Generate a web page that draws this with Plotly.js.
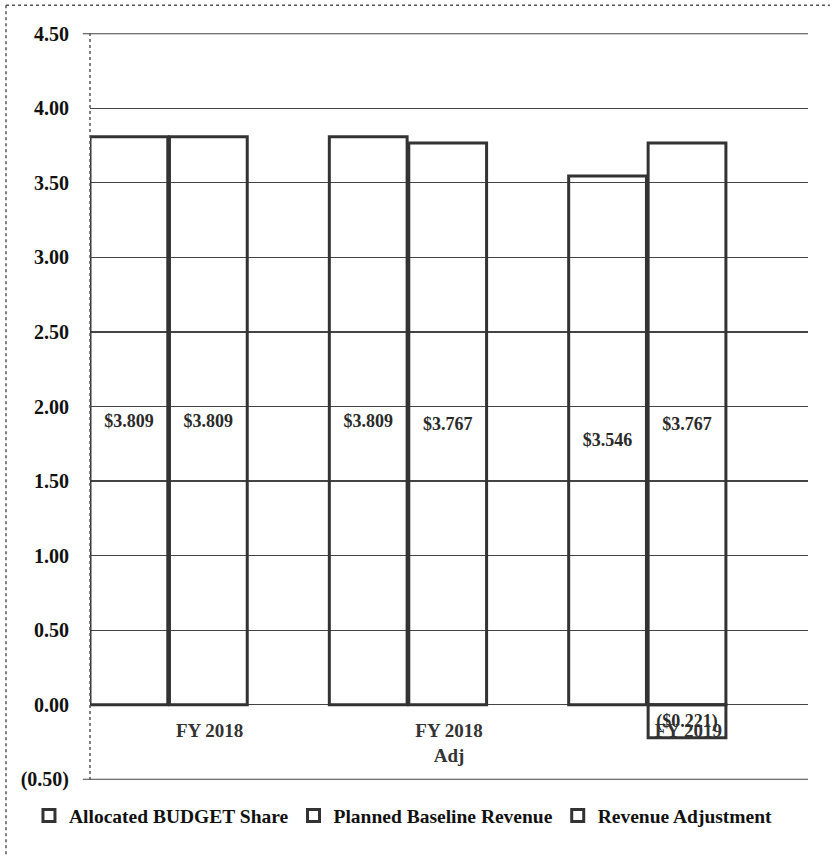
<!DOCTYPE html>
<html>
<head>
<meta charset="utf-8">
<script src="https://cdn.plot.ly/plotly-3.0.1.min.js"></script>
<style>
  html, body { margin: 0; padding: 0; background: #fff; }
  #chart { width: 830px; height: 856px; }
</style>
</head>
<body>
<div id="chart"></div>
<script>
// Budget share vs. baseline revenue, in $ millions
const categories = ['FY 2018', 'FY 2018<br>Adj', 'FY 2019'];
const allocatedShare = [3.809, 3.809, 3.546];
const plannedRevenue = [3.809, 3.767, 3.767];
const revenueAdjustment = [null, null, -0.221];

const yTickVals = [-0.5, 0, 0.5, 1, 1.5, 2, 2.5, 3, 3.5, 4, 4.5];
const yTickText = ['(0.50)', '0.00', '0.50', '1.00', '1.50', '2.00', '2.50', '3.00', '3.50', '4.00', '4.50'];

const SERIF = 'Liberation Serif, Times New Roman, serif';
const INK = '#333333';

function money(v) {
  if (v === null) return '';
  const s = '$' + Math.abs(v).toFixed(3);
  return v < 0 ? '(' + s + ')' : s;
}

// hollow bars: only the outline is drawn, so the grid shows through
function barTrace(name, values, offset) {
  return {
    type: 'bar',
    name: name,
    x: categories,
    y: values,
    offset: offset,
    width: 0.325,
    marker: { color: 'rgba(255,255,255,0)', line: { color: INK, width: 3 } },
    text: values.map(money),
    textposition: 'inside',
    insidetextanchor: 'middle',
    textangle: 0,
    constraintext: 'none',
    insidetextfont: { family: SERIF, size: 18, color: '#2a2a2a', weight: 'bold' },
    hoverinfo: 'x+y+name'
  };
}

const traces = [
  barTrace('Allocated BUDGET Share', allocatedShare, -0.5),
  barTrace('Planned Baseline Revenue', plannedRevenue, -0.168),
  barTrace('Revenue Adjustment', revenueAdjustment, -0.168)
];

// frame around the chart region
const frame = { color: '#555', width: 1.5, dash: 'dot' };
// grid lines on the two range ends
const edgeGrid = { color: '#444', width: 1.2 };

const layout = {
  width: 830,
  height: 856,
  margin: { l: 90, r: 22, t: 33, b: 76 },
  paper_bgcolor: '#ffffff',
  plot_bgcolor: '#ffffff',
  barmode: 'overlay',
  showlegend: true,
  font: { family: SERIF, color: '#111' },
  xaxis: {
    type: 'category',
    range: [-0.5, 2.5],
    anchor: 'free',
    position: 0.1,
    showgrid: false,
    showline: false,
    zeroline: false,
    ticks: '',
    ticklabelstandoff: 12,
    tickfont: { family: SERIF, size: 19, color: INK, weight: 'bold' },
    fixedrange: true
  },
  yaxis: {
    range: [-0.505, 4.505],
    tickvals: yTickVals,
    ticktext: yTickText,
    tickfont: { family: SERIF, size: 20, color: '#111', weight: 'bold' },
    ticks: '',
    ticklabelstandoff: 20,
    showgrid: true,
    gridcolor: '#444',
    gridwidth: 1.2,
    zeroline: true,
    zerolinecolor: '#444',
    zerolinewidth: 1.4,
    showline: false,
    fixedrange: true
  },
  legend: {
    orientation: 'h',
    x: -0.085,
    xanchor: 'left',
    y: -0.048,
    yanchor: 'middle',
    itemwidth: 30,
    font: { family: SERIF, size: 19.5, color: '#111', weight: 'bold' },
    bgcolor: 'rgba(0,0,0,0)'
  },
  shapes: [
    { type: 'line', xref: 'paper', yref: 'y', x0: -0.01, x1: 1, y0: yTickVals[yTickVals.length - 1], y1: yTickVals[yTickVals.length - 1], line: edgeGrid },
    { type: 'line', xref: 'paper', yref: 'y', x0: -0.01, x1: 1, y0: yTickVals[0], y1: yTickVals[0], line: edgeGrid },
    { type: 'line', xref: 'paper', yref: 'paper', x0: 0, x1: 0, y0: 0, y1: 1,
      line: { color: '#555', width: 1.5, dash: 'dot' } },
    { type: 'line', xref: 'paper', yref: 'paper', x0: -0.117, x1: 1.031, y0: 1.037, y1: 1.037, line: frame },
    { type: 'line', xref: 'paper', yref: 'paper', x0: -0.117, x1: -0.117, y0: 1.037, y1: -0.102, line: frame }
  ]
};

Plotly.newPlot('chart', traces, layout, { displayModeBar: false, staticPlot: true });
</script>
</body>
</html>
